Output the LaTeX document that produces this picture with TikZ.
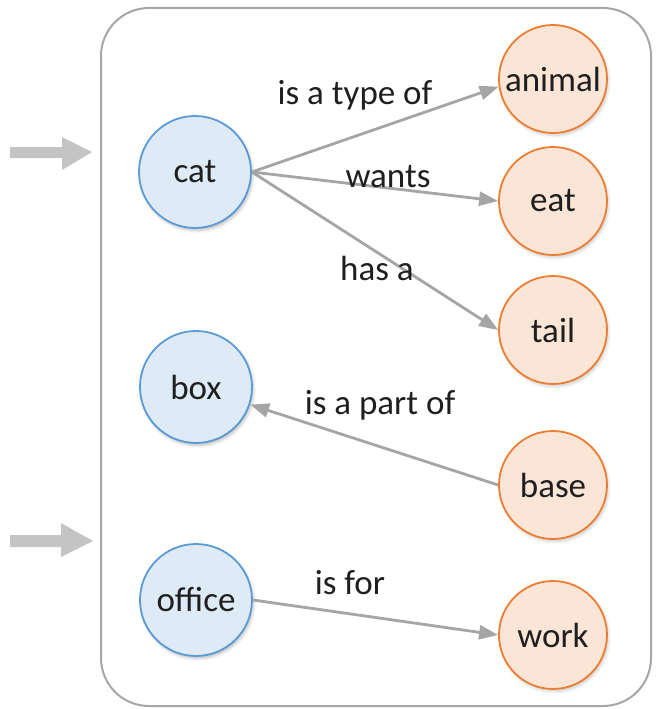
\documentclass[tikz,border=0pt]{standalone}
\usepackage{fontspec}
\setmainfont{Carlito}
\usetikzlibrary{arrows.meta,shadows.blur}
\definecolor{conceptfill}{HTML}{DEEBF7}
\definecolor{conceptline}{HTML}{5B9BD5}
\definecolor{targetfill}{HTML}{FBE5D6}
\definecolor{targetline}{HTML}{ED7D31}
\definecolor{linkgray}{HTML}{A5A5A5}
\definecolor{framegray}{HTML}{A6A6A6}
\definecolor{inputgray}{HTML}{C4C4C4}
\begin{document}
\begin{tikzpicture}[x=1pt,y=-1pt,
  concept/.style={circle,draw=conceptline,fill=conceptfill,line width=1.8pt,
    minimum size=112pt,inner sep=0pt,text=black!88,font=\fontsize{35}{37}\selectfont,
    blur shadow={shadow xshift=1.5pt,shadow yshift=-2.5pt,shadow blur radius=3pt,shadow opacity=25}},
  target/.style={circle,draw=targetline,fill=targetfill,line width=1.8pt,
    minimum size=108pt,inner sep=0pt,text=black!88,font=\fontsize{35}{37}\selectfont,
    blur shadow={shadow xshift=1.5pt,shadow yshift=-2.5pt,shadow blur radius=3pt,shadow opacity=20}},
  link/.style={draw=linkgray,line width=2.8pt,-{Triangle[length=19pt,width=14pt]}},
  relation/.style={text=black!88,font=\fontsize{35}{37}\selectfont,inner sep=0pt},
  inputarrow/.style={fill=inputgray}]
\useasboundingbox (0,0) rectangle (656,709);

% frame around the knowledge graph
\draw[framegray,line width=2pt,rounded corners=48pt] (101,8) rectangle (651,706);

% incoming arrows
\fill[inputarrow] (10,147) -- (62,147) -- (62,137) -- (92,152) -- (62,170) -- (62,158) -- (10,158) -- cycle;
\fill[inputarrow] (10,535) -- (61,535) -- (61,523) -- (93,541) -- (61,557) -- (61,547) -- (10,547) -- cycle;

% concepts
\node[concept] (cat) at (195,172) {cat};
\node[concept] (box) at (196,387) {box};
\node[concept] (office) at (196,600) {office};

% related terms
\node[target] (animal) at (553,79) {animal};
\node[target] (eat) at (553,201) {eat};
\node[target] (tail) at (553,330) {tail};
\node[target] (base) at (553,485) {base};
\node[target] (work) at (553,635) {work};

% relations
\draw[link] (cat.east) -- (animal.188);
\draw[link] (cat.east) -- (eat.west);
\draw[link] (cat.east) -- (tail.west);
\draw[link] (base.west) -- (box);
\draw[link] (office.east) -- (work.west);

% relation labels
\node[relation] (l1) at (355,95) {is a type of};
\node[relation] (l2) at (388,177) {wants};
\node[relation] (l3) at (377,268) {has a};
\node[relation] (l4) at (380,405) {is a part of};
\node[relation] (l5) at (350,583) {is for};
\end{tikzpicture}
\end{document}
